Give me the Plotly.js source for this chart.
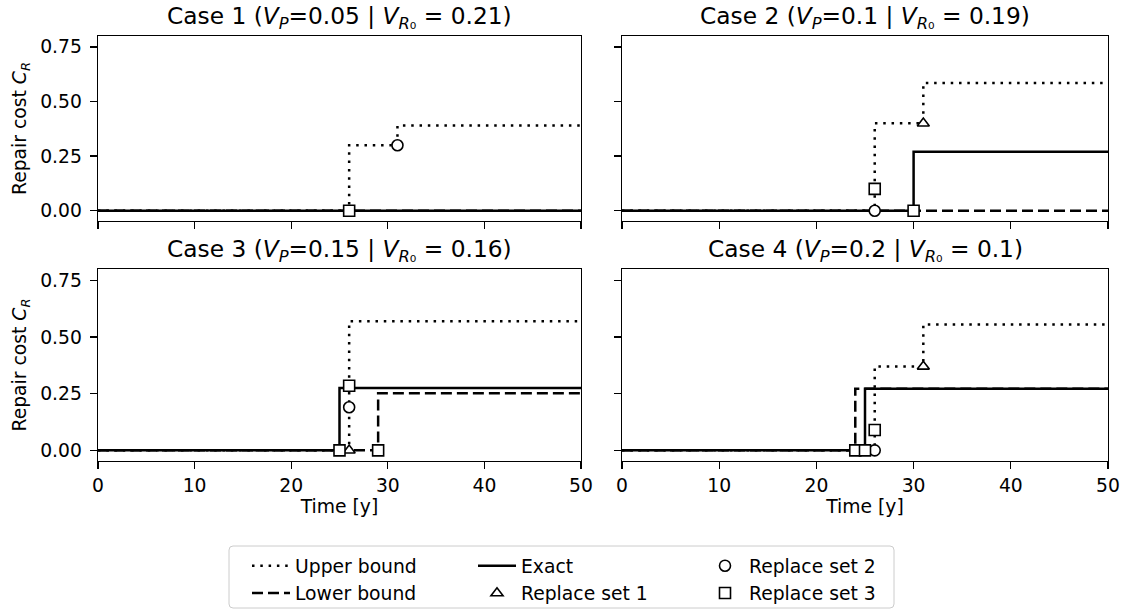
<!DOCTYPE html>
<html>
<head>
<meta charset="utf-8">
<script src="https://cdn.plot.ly/plotly-3.0.1.min.js"></script>
<style>html,body{margin:0;padding:0;background:#fff;}#chart{width:1125px;height:613px;}</style>
</head>
<body>
<div id="chart"></div>
<script>
// ---------------- data ----------------
const caseTitles = [
  'Case 1 (<i>V</i><sub><i>P</i></sub>=0.05 | <i>V</i><sub><i>R</i>\u2080</sub> = 0.21)',
  'Case 2 (<i>V</i><sub><i>P</i></sub>=0.1 | <i>V</i><sub><i>R</i>\u2080</sub> = 0.19)',
  'Case 3 (<i>V</i><sub><i>P</i></sub>=0.15 | <i>V</i><sub><i>R</i>\u2080</sub> = 0.16)',
  'Case 4 (<i>V</i><sub><i>P</i></sub>=0.2 | <i>V</i><sub><i>R</i>\u2080</sub> = 0.1)'
];
const seriesNames = ['Upper bound', 'Lower bound', 'Exact', 'Replace set 1', 'Replace set 2', 'Replace set 3'];
const xTickVals = [0, 10, 20, 30, 40, 50];
const yTickVals = [0, 0.25, 0.5, 0.75];
const yTickText = ['0.00', '0.25', '0.50', '0.75'];

// Case 1
const c1UpperT = [0, 26, 31, 50], c1Upper = [0, 0.30, 0.39, 0.39];
const c1LowerT = [0, 50],         c1Lower = [0, 0];
const c1ExactT = [0, 50],         c1Exact = [0, 0];
const c1Set1X = [],   c1Set1Y = [];
const c1Set2X = [31], c1Set2Y = [0.30];
const c1Set3X = [26], c1Set3Y = [0];
// Case 2
const c2UpperT = [0, 26, 31, 50], c2Upper = [0, 0.40, 0.585, 0.585];
const c2LowerT = [0, 50],         c2Lower = [0, 0];
const c2ExactT = [0, 30, 50],     c2Exact = [0, 0.27, 0.27];
const c2Set1X = [31],     c2Set1Y = [0.40];
const c2Set2X = [26],     c2Set2Y = [0];
const c2Set3X = [26, 30], c2Set3Y = [0.10, 0];
// Case 3
const c3UpperT = [0, 26, 50],     c3Upper = [0, 0.57, 0.57];
const c3LowerT = [0, 29, 50],     c3Lower = [0, 0.252, 0.252];
const c3ExactT = [0, 25, 50],     c3Exact = [0, 0.275, 0.275];
const c3Set1X = [26],         c3Set1Y = [0];
const c3Set2X = [26],         c3Set2Y = [0.19];
const c3Set3X = [25, 29, 26], c3Set3Y = [0, 0, 0.285];
// Case 4
const c4UpperT = [0, 26, 31, 50], c4Upper = [0, 0.37, 0.555, 0.555];
const c4LowerT = [0, 24, 50],     c4Lower = [0, 0.272, 0.272];
const c4ExactT = [0, 25, 50],     c4Exact = [0, 0.272, 0.272];
const c4Set1X = [31],         c4Set1Y = [0.37];
const c4Set2X = [26],         c4Set2Y = [0];
const c4Set3X = [24, 25, 26], c4Set3Y = [0, 0, 0.09];

const cases = [
  {ut: c1UpperT, u: c1Upper, lt: c1LowerT, l: c1Lower, et: c1ExactT, e: c1Exact, s1x: c1Set1X, s1y: c1Set1Y, s2x: c1Set2X, s2y: c1Set2Y, s3x: c1Set3X, s3y: c1Set3Y},
  {ut: c2UpperT, u: c2Upper, lt: c2LowerT, l: c2Lower, et: c2ExactT, e: c2Exact, s1x: c2Set1X, s1y: c2Set1Y, s2x: c2Set2X, s2y: c2Set2Y, s3x: c2Set3X, s3y: c2Set3Y},
  {ut: c3UpperT, u: c3Upper, lt: c3LowerT, l: c3Lower, et: c3ExactT, e: c3Exact, s1x: c3Set1X, s1y: c3Set1Y, s2x: c3Set2X, s2y: c3Set2Y, s3x: c3Set3X, s3y: c3Set3Y},
  {ut: c4UpperT, u: c4Upper, lt: c4LowerT, l: c4Lower, et: c4ExactT, e: c4Exact, s1x: c4Set1X, s1y: c4Set1Y, s2x: c4Set2X, s2y: c4Set2Y, s3x: c4Set3X, s3y: c4Set3Y}
];

// ---------------- layout helpers ----------------
const W = 1125, H = 613;
const M = {l: 40, r: 10, t: 30, b: 100, autoexpand: false};
const PW = W - M.l - M.r, PH = H - M.t - M.b;
const px2x = p => (p - M.l) / PW;
const px2y = p => (H - M.b - p) / PH;

const FONT = 'DejaVu Sans, Verdana, sans-serif';
const TICK_FS = 18.75, LABEL_FS = 18.75, TITLE_FS = 23.3, LEGEND_FS = 18.75;
const LW = 2.5;
const DOT = '2.5px,5.8px';
const DASH = '11px,5px';
const MSIZE = 11;

const colDomains = [[px2x(98), px2x(581)], [px2x(622), px2x(1108)]];
const rowDomains = [[px2y(221), px2y(36)], [px2y(461), px2y(269)]];

const traces = [];
const legendFor = {0: 'legend', 1: 'legend', 2: 'legend2', 3: 'legend2', 4: 'legend3', 5: 'legend3'};
cases.forEach((c, i) => {
  const xa = i === 0 ? 'x' : 'x' + (i + 1);
  const ya = i === 0 ? 'y' : 'y' + (i + 1);
  const showL = (i === 1);
  const base = (k) => ({xaxis: xa, yaxis: ya, name: seriesNames[k], showlegend: showL, legend: legendFor[k], legendgroup: 'g' + k, hoverinfo: 'skip'});
  traces.push(Object.assign(base(0), {x: c.ut, y: c.u, mode: 'lines', line: {color: '#000', width: LW, dash: DOT, shape: 'hv'}}));
  traces.push(Object.assign(base(1), {x: c.lt, y: c.l, mode: 'lines', line: {color: '#000', width: LW, dash: DASH, shape: 'hv'}}));
  traces.push(Object.assign(base(2), {x: c.et, y: c.e, mode: 'lines', line: {color: '#000', width: LW, dash: 'solid', shape: 'hv'}}));
  traces.push(Object.assign(base(3), {x: c.s1x, y: c.s1y, mode: 'markers', cliponaxis: false, marker: {symbol: 'triangle-up', size: MSIZE - 0.5, color: '#fff', line: {color: '#000', width: 1.6}}}));
  traces.push(Object.assign(base(4), {x: c.s2x, y: c.s2y, mode: 'markers', cliponaxis: false, marker: {symbol: 'circle', size: MSIZE, color: '#fff', line: {color: '#000', width: 1.6}}}));
  traces.push(Object.assign(base(5), {x: c.s3x, y: c.s3y, mode: 'markers', cliponaxis: false, marker: {symbol: 'square', size: MSIZE, color: '#fff', line: {color: '#000', width: 1.6}}}));
});

const axisCommon = {
  showline: true, linecolor: '#000', linewidth: 1.3, mirror: true,
  ticks: 'outside', ticklen: 7, tickwidth: 1.3, tickcolor: '#000',
  showgrid: false, zeroline: false, automargin: false,
  tickfont: {family: FONT, size: TICK_FS, color: '#000'}
};

const layout = {
  width: W, height: H,
  margin: M,
  paper_bgcolor: '#fff', plot_bgcolor: '#fff',
  font: {family: FONT, size: TICK_FS, color: '#000'},
  showlegend: true,
  annotations: [],
  shapes: []
};

for (let i = 0; i < 4; i++) {
  const col = i % 2, row = Math.floor(i / 2);
  const xk = i === 0 ? 'xaxis' : 'xaxis' + (i + 1);
  const yk = i === 0 ? 'yaxis' : 'yaxis' + (i + 1);
  const yid = i === 0 ? 'y' : 'y' + (i + 1);
  const xid = i === 0 ? 'x' : 'x' + (i + 1);
  layout[xk] = Object.assign({}, axisCommon, {
    domain: colDomains[col], anchor: yid, range: [0, 50],
    tickvals: xTickVals, showticklabels: row === 1, ticklabelstandoff: 0,
    title: row === 1 ? {text: 'Time [y]', font: {family: FONT, size: LABEL_FS}, standoff: 0} : {text: ''}
  });
  layout[yk] = Object.assign({}, axisCommon, {
    domain: rowDomains[row], anchor: xid, range: [-0.047, 0.80],
    tickvals: yTickVals, ticktext: yTickText, showticklabels: col === 0, ticklabelstandoff: 4,
    title: col === 0 ? {text: 'Repair cost <i>C</i><sub><i>R</i></sub>', font: {family: FONT, size: LABEL_FS}, standoff: 8} : {text: ''}
  });
  layout.annotations.push({
    text: caseTitles[i], xref: 'paper', yref: 'paper',
    x: (colDomains[col][0] + colDomains[col][1]) / 2, y: rowDomains[row][1],
    xanchor: 'center', yanchor: 'bottom', yshift: 1, showarrow: false,
    font: {family: FONT, size: TITLE_FS, color: '#000'}
  });
}

// legends: three columns inside one frame
const legendBase = {
  orientation: 'v', bgcolor: 'rgba(0,0,0,0)', borderwidth: 0,
  font: {family: FONT, size: LEGEND_FS, color: '#000'},
  traceorder: 'grouped', tracegroupgap: 0, xanchor: 'left', yanchor: 'top',
  itemwidth: 38,
  xref: 'paper', yref: 'paper', itemclick: false, itemdoubleclick: false
};
layout.legend  = Object.assign({}, legendBase, {x: px2x(247), y: px2y(547)});
layout.legend2 = Object.assign({}, legendBase, {x: px2x(473), y: px2y(547)});
layout.legend3 = Object.assign({}, legendBase, {x: px2x(701), y: px2y(547)});

// rounded legend frame
(function () {
  const x0 = 229, x1 = 894, y0 = 546, y1 = 608, r = 4;
  const X = p => px2x(p), Y = p => px2y(p);
  const path = 'M ' + X(x0 + r) + ',' + Y(y0) +
    ' L ' + X(x1 - r) + ',' + Y(y0) + ' Q ' + X(x1) + ',' + Y(y0) + ' ' + X(x1) + ',' + Y(y0 + r) +
    ' L ' + X(x1) + ',' + Y(y1 - r) + ' Q ' + X(x1) + ',' + Y(y1) + ' ' + X(x1 - r) + ',' + Y(y1) +
    ' L ' + X(x0 + r) + ',' + Y(y1) + ' Q ' + X(x0) + ',' + Y(y1) + ' ' + X(x0) + ',' + Y(y1 - r) +
    ' L ' + X(x0) + ',' + Y(y0 + r) + ' Q ' + X(x0) + ',' + Y(y0) + ' ' + X(x0 + r) + ',' + Y(y0) + ' Z';
  layout.shapes.push({type: 'path', xref: 'paper', yref: 'paper', path: path,
    line: {color: '#cccccc', width: 1}, fillcolor: 'rgba(255,255,255,0.8)', layer: 'below'});
})();

Plotly.newPlot('chart', traces, layout, {displayModeBar: false, staticPlot: true});
</script>
</body>
</html>
